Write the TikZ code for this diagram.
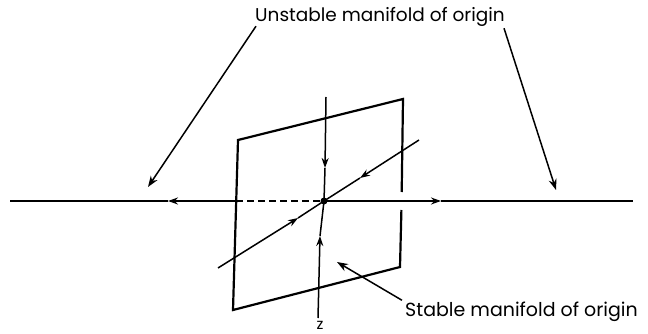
\documentclass[tikz,border=0pt]{standalone}
\usepackage{fontspec}
\setmainfont{Poppins}
\usepackage{tikz}
\usetikzlibrary{arrows.meta,positioning}
\newcommand\stablefont{\fontsize{19}{22}\selectfont}
\tikzset{
  ln/.style    = {line width=1.5pt, draw=black},
  edge/.style  = {line width=2.2pt, draw=black, line join=miter},
  hid/.style   = {ln, dash pattern=on 7pt off 4pt},
  tip/.style   = {ln, -{Stealth[length=10pt,width=7pt]}},
  lead/.style  = {ln, -{Stealth[length=11pt,width=8pt]}},
  lab/.style   = {font=\fontsize{18.5}{21}\selectfont, inner sep=0pt},
}
\begin{document}
\begin{tikzpicture}[x=1pt,y=-1pt]
  \useasboundingbox (0,0) rectangle (648,334);
  % points
  \coordinate (O)   at (324,201);
  \coordinate (hl)  at (10,201);
  \coordinate (hr)  at (633,201);
  \coordinate (hL)  at (168,201);
  \coordinate (hR)  at (441,201);
  \coordinate (eL)  at (236,201);
  \coordinate (pTL) at (238,140);
  \coordinate (pTR) at (403,99);
  \coordinate (pBR) at (400,267);
  \coordinate (pBL) at (233,310);
  \coordinate (gT)  at (401.7,192);
  \coordinate (gB)  at (401.4,210);
  \coordinate (vt)  at (326,97);
  \coordinate (vb)  at (318,318);
  \coordinate (vD)  at (325,168);
  \coordinate (vU)  at (320,236);
  \coordinate (d1)  at (218,268);
  \coordinate (d2)  at (419,140);
  \coordinate (dU)  at (360,178);
  \coordinate (dL)  at (298,218);
  \coordinate (uL)  at (148,187);
  \coordinate (uR)  at (556,190);
  \coordinate (sT)  at (337,262);

  % plane (right edge broken by the axis in front)
  \draw[edge] (gT) -- (pTR) -- (pTL) -- (pBL) -- (pBR) -- (gB);

  % unstable axis
  \draw[tip] (eL) -- (hL);
  \draw[ln]  (hL) -- (hl);
  \draw[hid] (eL) -- (O);
  \draw[tip] (O) -- (hR);
  \draw[ln]  (hR) -- (hr);

  % stable directions
  \draw[tip] (vt) -- (vD);
  \draw[ln]  (vD) -- (O);
  \draw[tip] (vb) -- (vU);
  \draw[ln]  (vU) -- (O);
  \draw[tip] (d2) -- (dU);
  \draw[ln]  (dU) -- (O);
  \draw[tip] (d1) -- (dL);
  \draw[ln]  (dL) -- (O);
  \fill (O) circle (3.5pt);

  % labels
  \node[lab, anchor=base] (un) at (380,22) {Unstable manifold of origin};
  \node[lab, anchor=base west, font=\stablefont] (st) at (405,316) {Stable manifold of origin};
  \node[lab, anchor=base, font=\fontsize{15}{17}\selectfont] (z) at (320,329) {z};

  \draw[lead] (un.south west) ++(1,-1) coordinate (uA) -- (uL);
  \draw[lead] (un.south east) ++(-1,1) coordinate (uB) -- (uR);
  \draw[lead] (st.north west) ++(-3,-1) coordinate (sA) -- (sT);
\end{tikzpicture}
\end{document}
